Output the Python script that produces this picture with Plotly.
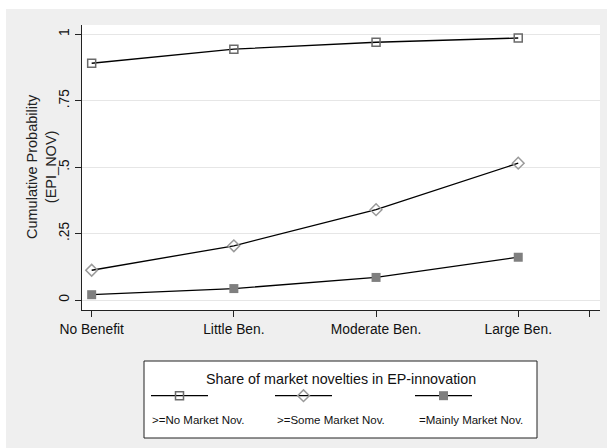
import plotly.graph_objects as go

# Benefit categories on the x axis
categories = ["No Benefit", "Little Ben.", "Moderate Ben.", "Large Ben."]
cat_pos = [1, 2, 3, 4]

# Cumulative probabilities per market-novelty threshold
p_no_market = [0.891, 0.944, 0.970, 0.986]
p_some_market = [0.112, 0.204, 0.340, 0.515]
p_mainly_market = [0.020, 0.043, 0.085, 0.161]

series_names = [">=No Market Nov.", ">=Some Market Nov.", "=Mainly Market Nov."]
y_ticks = [0, 0.25, 0.5, 0.75, 1]
y_tick_text = ["0", ".25", ".5", ".75", "1"]

W, H = 607, 448
FONT = "Liberation Sans, Arial, sans-serif"

styles = [
    dict(symbol="square-open", size=8, color="#6a6a6a", line=dict(width=1.5, color="#6a6a6a")),
    dict(symbol="diamond-open", size=9, color="#9a9a9a", line=dict(width=1.5, color="#9a9a9a")),
    dict(symbol="square", size=9, color="#7f7f7f", line=dict(width=0)),
]
data = [p_no_market, p_some_market, p_mainly_market]

fig = go.Figure()
for name, ys, st in zip(series_names, data, styles):
    fig.add_trace(go.Scatter(
        x=cat_pos, y=ys, mode="lines+markers", name=name,
        line=dict(color="black", width=1.3),
        marker=st, showlegend=False, xaxis="x", yaxis="y",
    ))

# Key box (pixel-based coordinates on a helper axis pair)
kx0, kx1, ky0, ky1 = 144, 537, 361, 438
sample_rows = [(151, 208), (275, 332), (415, 472)]
label_x = [150, 275, 417]
sample_y, label_y, title_y = 395.7, 420, 379

for (sx0, sx1), st in zip(sample_rows, styles):
    fig.add_trace(go.Scatter(
        x=[sx0, sx1], y=[sample_y, sample_y], mode="lines",
        line=dict(color="black", width=1.3), showlegend=False,
        hoverinfo="skip", xaxis="x2", yaxis="y2",
    ))
    fig.add_trace(go.Scatter(
        x=[(sx0 + sx1) / 2], y=[sample_y], mode="markers", marker=st,
        showlegend=False, hoverinfo="skip", xaxis="x2", yaxis="y2",
    ))

annotations = [
    dict(x=(kx0 + kx1) / 2, y=title_y, xref="x2", yref="y2",
         text="Share of market novelties in EP-innovation", showarrow=False,
         font=dict(size=14.3, color="#111", family=FONT), xanchor="center", yanchor="middle"),
]
for lx, name in zip(label_x, series_names):
    annotations.append(dict(
        x=lx, y=label_y, xref="x2", yref="y2", text=name, showarrow=False,
        font=dict(size=11.5, color="#111", family=FONT), xanchor="left", yanchor="middle"))

# y-axis title
annotations.append(dict(
    x=41 / W, y=1 - 167 / H, xref="paper", yref="paper",
    text="Cumulative Probability<br>(EPI_NOV)", showarrow=False, textangle=-90,
    font=dict(size=14.5, color="#222", family=FONT), xanchor="center", yanchor="middle"))

shapes = [
    # white strips along the top and left edges
    dict(type="rect", xref="paper", yref="paper", x0=0, x1=1, y0=1 - 9 / H, y1=1,
         fillcolor="white", line=dict(width=0), layer="below"),
    dict(type="rect", xref="paper", yref="paper", x0=0, x1=6 / W, y0=0, y1=1,
         fillcolor="white", line=dict(width=0), layer="below"),
    # key border
    dict(type="rect", xref="x2 domain", yref="y2 domain", x0=0, x1=1, y0=0, y1=1,
         line=dict(color="#222", width=1), fillcolor="rgba(0,0,0,0)"),
]

fig.update_layout(
    width=W, height=H,
    margin=dict(l=0, r=0, t=0, b=0, autoexpand=False),
    paper_bgcolor="#efefef", plot_bgcolor="white",
    font=dict(family=FONT, color="#111"),
    xaxis=dict(
        domain=[82 / W, 600 / W], range=[0.932, 4.575], automargin=False,
        tickmode="array", tickvals=cat_pos + [4.5], ticktext=categories + [""],
        ticks="outside", ticklen=6, tickcolor="#222", tickwidth=1,
        showline=True, linecolor="#222", linewidth=1,
        showgrid=False, zeroline=False,
        tickfont=dict(size=13.8, color="#111", family=FONT),
    ),
    yaxis=dict(
        domain=[1 - 310 / H, 1 - 25 / H], range=[-0.0376, 1.035], automargin=False,
        tickmode="array", tickvals=y_ticks, ticktext=y_tick_text, tickangle=-90,
        ticks="outside", ticklen=6, tickcolor="#222", tickwidth=1,
        showline=True, linecolor="#222", linewidth=1,
        showgrid=True, gridcolor="#e6e6e6", gridwidth=1, zeroline=False,
        tickfont=dict(size=13.8, color="#111", family=FONT),
    ),
    xaxis2=dict(domain=[kx0 / W, kx1 / W], range=[kx0, kx1], visible=False,
                anchor="y2", fixedrange=True, automargin=False),
    yaxis2=dict(domain=[1 - ky1 / H, 1 - ky0 / H], range=[ky1, ky0], visible=False,
                anchor="x2", fixedrange=True, automargin=False),
    annotations=annotations,
    shapes=shapes,
    showlegend=False,
)

fig.write_html("out.html")
